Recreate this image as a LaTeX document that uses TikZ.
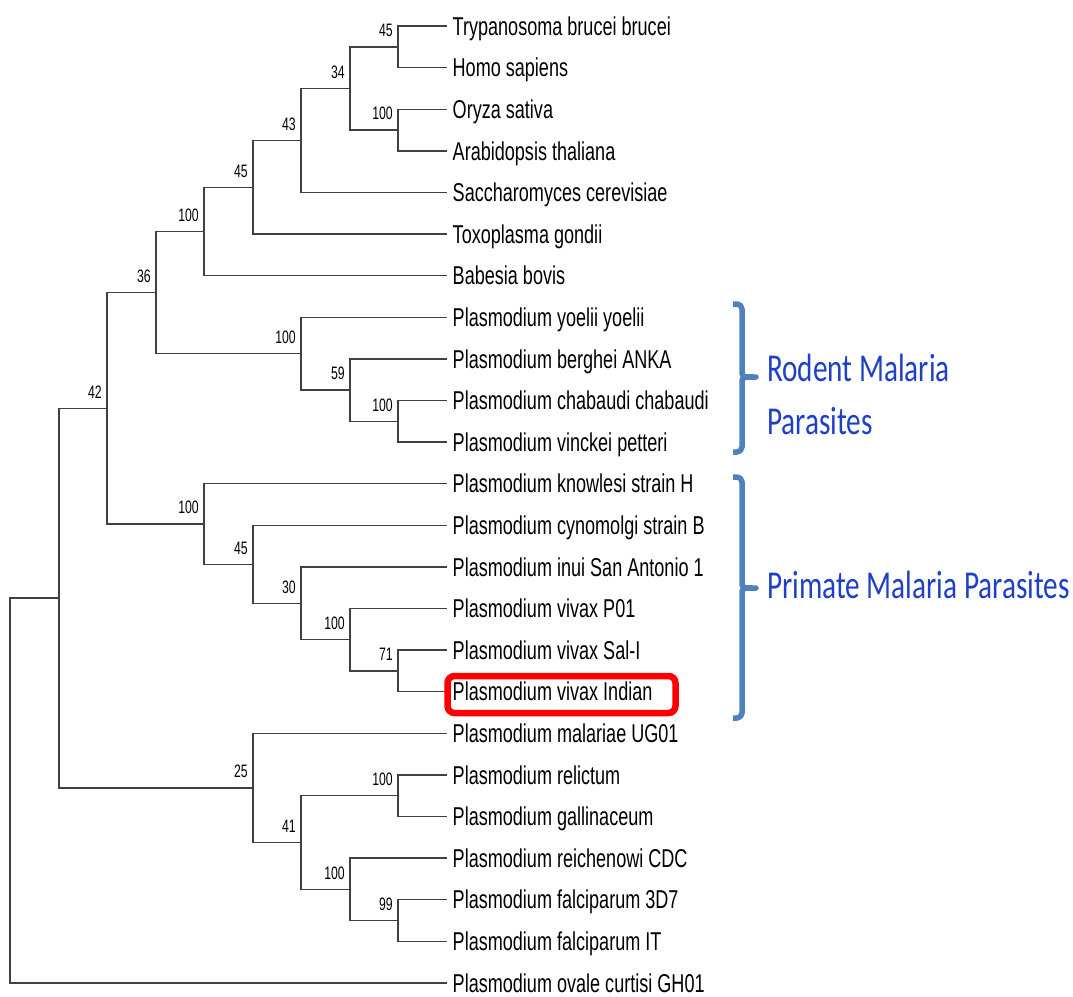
\documentclass[tikz,border=0pt]{standalone}
\usepackage{fontspec}
\usetikzlibrary{positioning}
\newfontfamily\leaffont[FakeStretch=0.70]{Liberation Sans}
\newfontfamily\bootfont[FakeStretch=0.68]{Liberation Sans}
\newfontfamily\groupfont[FakeStretch=0.74]{Carlito}
\definecolor{bracketblue}{RGB}{79,129,189}
\definecolor{groupblue}{RGB}{30,64,200}
\newcommand{\cladebrace}[3]{% top, bottom, tip
  \draw[cladebrace] (733,#1) -- (737,#1) to[out=0,in=90] (742,#1+5) -- (742,#3-6)
    .. controls (742,#3) .. (756,#3) .. controls (742,#3) .. (742,#3+6)
    -- (742,#2-5) to[out=-90,in=0] (737,#2) -- (733,#2);
}
\tikzset{
  branch/.style={
    draw=black!75,
    line width=1.4pt
  },
  leaf/.style={
    anchor=west,
    inner xsep=5.5pt,
    inner ysep=0pt,
    text height=18.5pt,
    text depth=0pt,
    font=\leaffont\fontsize{25.8}{30}\selectfont
  },
  boot/.style={
    inner sep=0pt,
    text depth=0pt,
    font=\bootfont\fontsize{18}{20}\selectfont
  },
  cladebrace/.style={
    draw=bracketblue,
    line width=5.5pt,
    line join=round
  },
  grouplabel/.style={
    text=groupblue,
    align=left,
    inner sep=0pt,
    anchor=base west,
    font=\groupfont\fontsize{39.5}{53}\selectfont
  },
  highlight/.style={
    draw=red,
    line width=6.5pt,
    rounded corners=7pt,
    inner sep=0pt,
    minimum width=228pt,
    minimum height=37pt
  }
}

\begin{document}
\begin{tikzpicture}[x=1pt,y=-1pt]
  \useasboundingbox (0,0) rectangle (1073,996);

  % taxa
  \node[leaf] (tbb)   at (447,26)    {Trypanosoma brucei brucei};
  \node[leaf] (hsap)  at (447,67.6)  {Homo sapiens};
  \node[leaf] (osat)  at (447,109.2) {Oryza sativa};
  \node[leaf] (atha)  at (447,150.8) {Arabidopsis thaliana};
  \node[leaf] (scer)  at (447,192.4) {Saccharomyces cerevisiae};
  \node[leaf] (tgon)  at (447,234)   {Toxoplasma gondii};
  \node[leaf] (bbov)  at (447,275.6) {Babesia bovis};
  \node[leaf] (pyoe)  at (447,317.2) {Plasmodium yoelii yoelii};
  \node[leaf] (pber)  at (447,358.8) {Plasmodium berghei ANKA};
  \node[leaf] (pcha)  at (447,400.4) {Plasmodium chabaudi chabaudi};
  \node[leaf] (pvin)  at (447,442)   {Plasmodium vinckei petteri};
  \node[leaf] (pkno)  at (447,483.6) {Plasmodium knowlesi strain H};
  \node[leaf] (pcyn)  at (447,525.2) {Plasmodium cynomolgi strain B};
  \node[leaf] (pinu)  at (447,566.8) {Plasmodium inui San Antonio 1};
  \node[leaf] (pvp)   at (447,608.4) {Plasmodium vivax P01};
  \node[leaf] (pvs)   at (447,650)   {Plasmodium vivax Sal-I};
  \node[leaf] (pvi)   at (447,691.6) {Plasmodium vivax Indian};
  \node[leaf] (pmal)  at (447,733.2) {Plasmodium malariae UG01};
  \node[leaf] (prel)  at (447,774.8) {Plasmodium relictum};
  \node[leaf] (pgal)  at (447,816.4) {Plasmodium gallinaceum};
  \node[leaf] (prei)  at (447,858)   {Plasmodium reichenowi CDC};
  \node[leaf] (pf3d7) at (447,899.6) {Plasmodium falciparum 3D7};
  \node[leaf] (pfit)  at (447,941.2) {Plasmodium falciparum IT};
  \node[leaf] (poc)   at (447,982.8) {Plasmodium ovale curtisi GH01};

  % internal nodes
  \coordinate (root) at (10,790.4);
  \coordinate (nA) at (59,598);
  \coordinate (nB) at (107,408.2);
  \coordinate (nD) at (156,292.5);
  \coordinate (nF) at (204,231.4);
  \coordinate (nH) at (253,187.2);
  \coordinate (nI) at (301,140.4);
  \coordinate (nJ) at (350,88.4);
  \coordinate (nK) at (398,46.8);
  \coordinate (nL) at (398,130);
  \coordinate (nG) at (301,353.6);
  \coordinate (nM) at (350,390);
  \coordinate (nN) at (398,421.2);
  \coordinate (nE) at (204,523.9);
  \coordinate (nO) at (253,564.2);
  \coordinate (nP) at (301,603.2);
  \coordinate (nQ) at (350,639.6);
  \coordinate (nS) at (398,670.8);
  \coordinate (nC) at (253,787.8);
  \coordinate (nT) at (301,842.4);
  \coordinate (nU) at (398,795.6);
  \coordinate (nV) at (350,889.2);
  \coordinate (nW) at (398,920.4);

  % branches
  \draw[branch] (root) |- (nA) (root) |- (poc.west);
  \draw[branch] (nA) |- (nB) (nA) |- (nC);
  \draw[branch] (nB) |- (nD) (nB) |- (nE);
  \draw[branch] (nD) |- (nF) (nD) |- (nG);
  \draw[branch] (nF) |- (nH) (nF) |- (bbov.west);
  \draw[branch] (nH) |- (nI) (nH) |- (tgon.west);
  \draw[branch] (nI) |- (nJ) (nI) |- (scer.west);
  \draw[branch] (nJ) |- (nK) (nJ) |- (nL);
  \draw[branch] (nK) |- (tbb.west) (nK) |- (hsap.west);
  \draw[branch] (nL) |- (osat.west) (nL) |- (atha.west);
  \draw[branch] (nG) |- (pyoe.west) (nG) |- (nM);
  \draw[branch] (nM) |- (pber.west) (nM) |- (nN);
  \draw[branch] (nN) |- (pcha.west) (nN) |- (pvin.west);
  \draw[branch] (nE) |- (pkno.west) (nE) |- (nO);
  \draw[branch] (nO) |- (pcyn.west) (nO) |- (nP);
  \draw[branch] (nP) |- (pinu.west) (nP) |- (nQ);
  \draw[branch] (nQ) |- (pvp.west) (nQ) |- (nS);
  \draw[branch] (nS) |- (pvs.west) (nS) |- (pvi.west);
  \draw[branch] (nC) |- (pmal.west) (nC) |- (nT);
  \draw[branch] (nT) |- (nU) (nT) |- (nV);
  \draw[branch] (nU) |- (prel.west) (nU) |- (pgal.west);
  \draw[branch] (nV) |- (prei.west) (nV) |- (nW);
  \draw[branch] (nW) |- (pf3d7.west) (nW) |- (pfit.west);

  % bootstrap values
  \node[boot, above left=10pt and 5pt of nB] (bB) {42};
  \node[boot, above left=10pt and 5pt of nD] (bD) {36};
  \node[boot, above left=10pt and 5pt of nF] (bF) {100};
  \node[boot, above left=10pt and 5pt of nH] (bH) {45};
  \node[boot, above left=10pt and 5pt of nI] (bI) {43};
  \node[boot, above left=10pt and 5pt of nJ] (bJ) {34};
  \node[boot, above left=10pt and 5pt of nK] (bK) {45};
  \node[boot, above left=10pt and 5pt of nL] (bL) {100};
  \node[boot, above left=10pt and 5pt of nG] (bG) {100};
  \node[boot, above left=10pt and 5pt of nM] (bM) {59};
  \node[boot, above left=10pt and 5pt of nN] (bN) {100};
  \node[boot, above left=10pt and 5pt of nE] (bE) {100};
  \node[boot, above left=10pt and 5pt of nO] (bO) {45};
  \node[boot, above left=10pt and 5pt of nP] (bP) {30};
  \node[boot, above left=10pt and 5pt of nQ] (bQ) {100};
  \node[boot, above left=10pt and 5pt of nS] (bS) {71};
  \node[boot, above left=10pt and 5pt of nC] (bC) {25};
  \node[boot, above left=10pt and 5pt of nT] (bT) {41};
  \node[boot, above left=10pt and 5pt of nU] (bU) {100};
  \node[boot, above left=10pt and 5pt of nV] (bV) {100};
  \node[boot, above left=10pt and 5pt of nW] (bW) {99};

  % highlighted isolate
  \node[highlight] (indianbox) at (561.5,694.5) {};

  % host groups
  \cladebrace{304}{452}{377}
  \cladebrace{477}{718}{588}
  \node[grouplabel] (rodent) at (767,434) {Rodent Malaria\\Parasites};
  \node[grouplabel] (primate) at (767,598) {Primate Malaria Parasites};
\end{tikzpicture}
\end{document}
